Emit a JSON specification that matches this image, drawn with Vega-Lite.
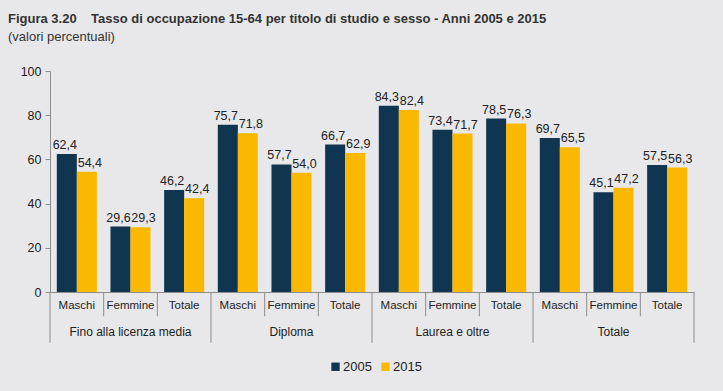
{
  "$schema": "https://vega.github.io/schema/vega-lite/v6.json",
  "autosize": {"type": "none"},
  "width": 644,
  "height": 221,
  "padding": {"left": 50, "top": 71, "right": 29, "bottom": 99},
  "background": "#e8e8ea",
  "config": {
    "locale": {"number": {"decimal": ",", "thousands": ".", "grouping": [3], "currency": ["", " €"]}},
    "view": {"stroke": null},
    "font": "Liberation Sans",
    "axis": {"labelFont": "Liberation Sans", "labelColor": "#222"},
    "axisY": {"labelOverlap": false, "labelBound": false, "labelSeparation": 0, "tickCount": 10, "grid": false, "domainColor": "#8c8c8c", "tickColor": "#8c8c8c", "tickSize": 5, "labelPadding": 4, "labelFontSize": 12.5, "title": null},
    "legend": {"labelFont": "Liberation Sans", "labelFontSize": 13, "labelColor": "#222"}
  },
  "title": {
    "text": "Figura 3.20\u00a0\u00a0\u00a0\u00a0Tasso di occupazione 15-64 per titolo di studio e sesso - Anni 2005 e 2015",
    "subtitle": "(valori percentuali)",
    "anchor": "start",
    "frame": "group",
    "dx": -42,
    "offset": 21,
    "font": "Liberation Sans",
    "fontSize": 13,
    "fontWeight": "bold",
    "color": "#333",
    "subtitleFont": "Liberation Sans",
    "subtitleFontSize": 13,
    "subtitleColor": "#333",
    "subtitlePadding": 5
  },
  "data": {
    "values": [
      {"k": "Fino alla licenza media|Maschi", "g": "Fino alla licenza media", "s": "Maschi", "year": "2005", "v": 62.4},
      {"k": "Fino alla licenza media|Maschi", "g": "Fino alla licenza media", "s": "Maschi", "year": "2015", "v": 54.4},
      {"k": "Fino alla licenza media|Femmine", "g": "Fino alla licenza media", "s": "Femmine", "year": "2005", "v": 29.6},
      {"k": "Fino alla licenza media|Femmine", "g": "Fino alla licenza media", "s": "Femmine", "year": "2015", "v": 29.3},
      {"k": "Fino alla licenza media|Totale", "g": "Fino alla licenza media", "s": "Totale", "year": "2005", "v": 46.2},
      {"k": "Fino alla licenza media|Totale", "g": "Fino alla licenza media", "s": "Totale", "year": "2015", "v": 42.4},
      {"k": "Diploma|Maschi", "g": "Diploma", "s": "Maschi", "year": "2005", "v": 75.7},
      {"k": "Diploma|Maschi", "g": "Diploma", "s": "Maschi", "year": "2015", "v": 71.8},
      {"k": "Diploma|Femmine", "g": "Diploma", "s": "Femmine", "year": "2005", "v": 57.7},
      {"k": "Diploma|Femmine", "g": "Diploma", "s": "Femmine", "year": "2015", "v": 54.0},
      {"k": "Diploma|Totale", "g": "Diploma", "s": "Totale", "year": "2005", "v": 66.7},
      {"k": "Diploma|Totale", "g": "Diploma", "s": "Totale", "year": "2015", "v": 62.9},
      {"k": "Laurea e oltre|Maschi", "g": "Laurea e oltre", "s": "Maschi", "year": "2005", "v": 84.3},
      {"k": "Laurea e oltre|Maschi", "g": "Laurea e oltre", "s": "Maschi", "year": "2015", "v": 82.4},
      {"k": "Laurea e oltre|Femmine", "g": "Laurea e oltre", "s": "Femmine", "year": "2005", "v": 73.4},
      {"k": "Laurea e oltre|Femmine", "g": "Laurea e oltre", "s": "Femmine", "year": "2015", "v": 71.7},
      {"k": "Laurea e oltre|Totale", "g": "Laurea e oltre", "s": "Totale", "year": "2005", "v": 78.5},
      {"k": "Laurea e oltre|Totale", "g": "Laurea e oltre", "s": "Totale", "year": "2015", "v": 76.3},
      {"k": "Totale|Maschi", "g": "Totale", "s": "Maschi", "year": "2005", "v": 69.7},
      {"k": "Totale|Maschi", "g": "Totale", "s": "Maschi", "year": "2015", "v": 65.5},
      {"k": "Totale|Femmine", "g": "Totale", "s": "Femmine", "year": "2005", "v": 45.1},
      {"k": "Totale|Femmine", "g": "Totale", "s": "Femmine", "year": "2015", "v": 47.2},
      {"k": "Totale|Totale", "g": "Totale", "s": "Totale", "year": "2005", "v": 57.5},
      {"k": "Totale|Totale", "g": "Totale", "s": "Totale", "year": "2015", "v": 56.3}
    ]
  },
  "layer": [
    {
      "mark": {"type": "bar"},
      "encoding": {
        "x": {
          "field": "k", "type": "nominal", "sort": null,
          "scale": {"paddingInner": 0, "paddingOuter": 0},
          "axis": {
            "title": null, "ticks": false, "labelAngle": 0, "labelPadding": 7,
            "labelExpr": "split(datum.label, '|')[1]",
            "domainColor": "#8c8c8c", "labelFontSize": 11.5
          }
        },
        "xOffset": {"field": "year", "type": "nominal", "scale": {"paddingInner": 0, "paddingOuter": 0.34}},
        "y": {
          "field": "v", "type": "quantitative",
          "scale": {"domain": [0, 100], "nice": false},
          "axis": {"values": [0,10,20,30,40,50,60,70,80,90,100], "tickCount": 10, "labelOverlap": false, "labelBound": false, "labelSeparation": 0}
        },
        "color": {
          "field": "year", "type": "nominal",
          "scale": {"domain": ["2005", "2015"], "range": ["#0f3550", "#fbb800"]},
          "legend": {
            "title": null, "orient": "none", "direction": "horizontal",
            "legendX": 279, "legendY": 289,
            "symbolType": "square", "symbolSize": 70, "symbolStrokeWidth": 0,
            "labelOffset": 1, "columnPadding": 7
          }
        }
      }
    },
    {
      "transform": [{"filter": "datum.year === '2005'"}],
      "mark": {"type": "text", "baseline": "bottom", "dy": -2, "dx": -2, "fontSize": 12.5, "color": "#222"},
      "encoding": {
        "x": {"field": "k", "type": "nominal", "sort": null},
        "xOffset": {"field": "year", "type": "nominal"},
        "y": {"field": "v", "type": "quantitative"},
        "text": {"field": "v", "type": "quantitative", "format": ".1f"}
      }
    },
    {
      "transform": [{"filter": "datum.year === '2015'"}],
      "mark": {"type": "text", "baseline": "bottom", "dy": -2, "dx": 3, "fontSize": 12.5, "color": "#222"},
      "encoding": {
        "x": {"field": "k", "type": "nominal", "sort": null},
        "xOffset": {"field": "year", "type": "nominal"},
        "y": {"field": "v", "type": "quantitative"},
        "text": {"field": "v", "type": "quantitative", "format": ".1f"}
      }
    },
    {
      "transform": [{"filter": "datum.s === 'Femmine' && datum.year === '2005'"}],
      "mark": {"type": "text", "baseline": "middle", "fontSize": 12, "color": "#222"},
      "encoding": {
        "x": {"field": "k", "type": "nominal", "sort": null},
        "y": {"datum": -18, "type": "quantitative"},
        "text": {"field": "g"}
      }
    },
    {
      "transform": [{"filter": "datum.year === '2005' && datum.s !== 'Maschi'"}],
      "mark": {"type": "rule", "color": "#8c8c8c", "strokeWidth": 1},
      "encoding": {
        "x": {"field": "k", "type": "nominal", "sort": null, "bandPosition": 0},
        "y": {"datum": 0, "type": "quantitative"},
        "y2": {"datum": -11}
      }
    },
    {
      "transform": [{"filter": "datum.year === '2005' && datum.s === 'Maschi'"}],
      "mark": {"type": "rule", "color": "#8c8c8c", "strokeWidth": 1},
      "encoding": {
        "x": {"field": "k", "type": "nominal", "sort": null, "bandPosition": 0},
        "y": {"datum": 0, "type": "quantitative"},
        "y2": {"datum": -23}
      }
    },
    {
      "transform": [{"filter": "datum.year === '2005' && datum.k === 'Totale|Totale'"}],
      "mark": {"type": "rule", "color": "#8c8c8c", "strokeWidth": 1},
      "encoding": {
        "x": {"field": "k", "type": "nominal", "sort": null, "bandPosition": 1},
        "y": {"datum": 0, "type": "quantitative"},
        "y2": {"datum": -23}
      }
    }
  ]
}
